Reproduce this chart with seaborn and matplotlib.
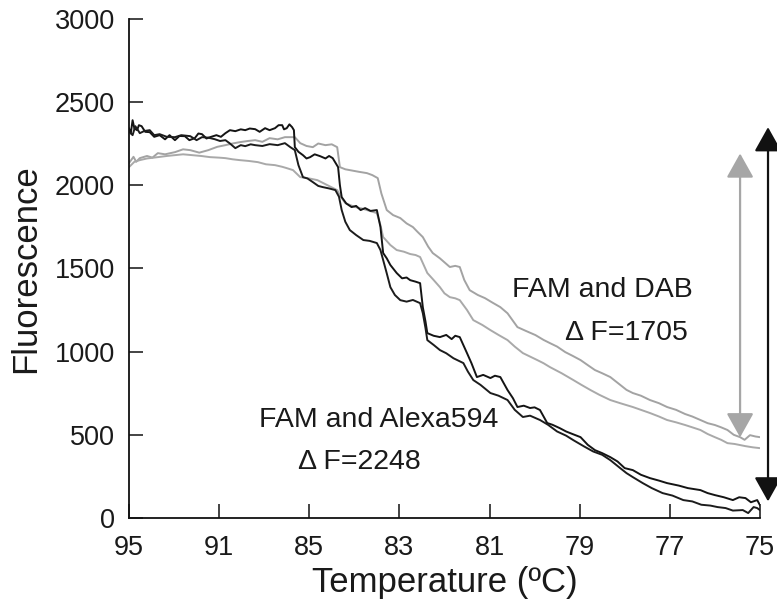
import numpy as np
import pandas as pd
import matplotlib
matplotlib.use("Agg")
import matplotlib.pyplot as plt
import seaborn as sns

# ---- data (x in tick-position units: 0 -> 95 C, 7 -> 75 C) ----
tick_labels = ["95", "91", "85", "83", "81", "79", "77", "75"]

alexa_a_x = [0, 0.02, 0.04, 0.06, 0.09, 0.11, 0.14, 0.18, 0.23, 0.28, 0.34, 0.40, 0.45, 0.51,
             0.56, 0.62, 0.67, 0.73, 0.77, 0.81, 0.86, 0.90, 0.97, 1.02, 1.07, 1.12, 1.18, 1.24,
             1.29, 1.34, 1.40, 1.45, 1.51, 1.56, 1.62, 1.66, 1.70, 1.72, 1.75, 1.78, 1.81, 1.83,
             1.84, 1.88, 1.93, 1.97, 2.01, 2.06, 2.12, 2.18, 2.22, 2.26, 2.32, 2.34, 2.36, 2.41,
             2.47, 2.52, 2.57, 2.62, 2.68, 2.75, 2.77, 2.79, 2.82, 2.86, 2.90, 2.97, 3.03, 3.08,
             3.12, 3.18, 3.23, 3.26, 3.29, 3.31, 3.38, 3.45, 3.52, 3.58, 3.62, 3.67, 3.75, 3.80,
             3.86, 3.93, 4.01, 4.06, 4.12, 4.20, 4.26, 4.31, 4.38, 4.45, 4.50, 4.56, 4.64, 4.70,
             4.78, 4.85, 4.92, 5.01, 5.09, 5.17, 5.25, 5.34, 5.42, 5.50, 5.59, 5.68, 5.78, 5.88,
             5.97, 6.10, 6.20, 6.34, 6.42, 6.50, 6.60, 6.70, 6.77, 6.84, 6.90, 6.97, 7.00]
alexa_a_y = [2342, 2310, 2390, 2340, 2330, 2360, 2354, 2320, 2318, 2290, 2300, 2275, 2300, 2270,
             2295, 2294, 2270, 2282, 2310, 2306, 2280, 2288, 2300, 2290, 2312, 2330, 2324, 2335,
             2330, 2340, 2336, 2320, 2342, 2330, 2342, 2360, 2360, 2335, 2342, 2365, 2348, 2330,
             2228, 2200, 2180, 2160, 2168, 2185, 2174, 2160, 2175, 2162, 2108, 2000, 1928, 1890,
             1868, 1875, 1850, 1862, 1845, 1850, 1800, 1748, 1592, 1560, 1520, 1472, 1440, 1445,
             1429, 1420, 1411, 1267, 1180, 1111, 1095, 1087, 1100, 1075, 1095, 1087, 991, 930,
             847, 860, 841, 855, 847, 769, 720, 667, 675, 661, 665, 649, 571, 560,
             540, 520, 505, 486, 440, 408, 390, 366, 340, 300, 288, 260, 240, 225,
             210, 195, 180, 168, 150, 138, 125, 108, 125, 120, 95, 108, 78]

alexa_b_x = [0, 0.04, 0.07, 0.10, 0.12, 0.17, 0.23, 0.28, 0.34, 0.42, 0.51, 0.58, 0.68, 0.75,
             0.81, 0.88, 0.95, 1.01, 1.07, 1.12, 1.18, 1.24, 1.29, 1.35, 1.40, 1.48, 1.56, 1.65,
             1.73, 1.79, 1.84, 1.88, 1.93, 1.98, 2.04, 2.10, 2.15, 2.22, 2.29, 2.33, 2.36, 2.40,
             2.45, 2.52, 2.60, 2.67, 2.75, 2.79, 2.82, 2.86, 2.90, 2.95, 3.01, 3.08, 3.15, 3.23,
             3.26, 3.29, 3.31, 3.38, 3.45, 3.52, 3.60, 3.71, 3.76, 3.82, 3.90, 4.01, 4.10, 4.20,
             4.28, 4.37, 4.45, 4.56, 4.65, 4.75, 4.85, 4.93, 5.05, 5.15, 5.25, 5.34, 5.45, 5.52,
             5.59, 5.70, 5.80, 5.92, 6.03, 6.15, 6.25, 6.35, 6.45, 6.53, 6.62, 6.70, 6.81, 6.87,
             6.93, 6.97, 7.00]
alexa_b_y = [2324, 2300, 2354, 2330, 2312, 2325, 2330, 2300, 2306, 2290, 2288, 2300, 2294, 2270,
             2288, 2285, 2276, 2265, 2270, 2250, 2222, 2240, 2234, 2245, 2240, 2235, 2246, 2240,
             2252, 2228, 2210, 2120, 2048, 2040, 2018, 1995, 1988, 1980, 1970, 1930, 1850, 1780,
             1730, 1700, 1670, 1665, 1652, 1610, 1550, 1470, 1387, 1340, 1309, 1300, 1310, 1291,
             1231, 1140, 1069, 1040, 1009, 990, 960, 931, 880, 829, 800, 751, 735, 709,
             650, 607, 615, 589, 560, 520, 495, 468, 430, 400, 380, 348, 300, 270,
             246, 210, 180, 150, 135, 108, 100, 80, 75, 66, 60, 45, 48, 30,
             66, 60, 48]

dab_a_x = [0, 0.05, 0.08, 0.12, 0.20, 0.26, 0.32, 0.40, 0.51, 0.60, 0.68, 0.78, 0.88, 0.98,
           1.07, 1.15, 1.23, 1.32, 1.40, 1.48, 1.56, 1.65, 1.73, 1.84, 1.90, 1.97, 2.04, 2.10,
           2.18, 2.25, 2.31, 2.34, 2.40, 2.45, 2.55, 2.64, 2.70, 2.76, 2.80, 2.86, 2.93, 3.01,
           3.08, 3.15, 3.20, 3.26, 3.32, 3.37, 3.45, 3.56, 3.62, 3.67, 3.72, 3.78, 3.87, 3.95,
           4.03, 4.12, 4.20, 4.31, 4.40, 4.51, 4.60, 4.67, 4.75, 4.84, 4.92, 5.01, 5.10, 5.17,
           5.25, 5.34, 5.45, 5.52, 5.59, 5.68, 5.78, 5.88, 5.97, 6.07, 6.17, 6.25, 6.34, 6.42,
           6.50, 6.57, 6.64, 6.71, 6.78, 6.83, 6.89, 6.95, 7.00]
dab_a_y = [2132, 2170, 2140, 2162, 2175, 2165, 2192, 2185, 2198, 2215, 2210, 2195, 2210, 2230,
           2240, 2250, 2258, 2265, 2270, 2260, 2282, 2275, 2288, 2288, 2252, 2235, 2228, 2250,
           2240, 2245, 2228, 2108, 2095, 2090, 2080, 2072, 2060, 2042, 1950, 1850, 1820, 1802,
           1770, 1748, 1720, 1688, 1630, 1592, 1560, 1508, 1515, 1508, 1430, 1369, 1340, 1321,
           1295, 1267, 1230, 1147, 1125, 1099, 1070, 1051, 1030, 997, 975, 949, 915, 889,
           870, 847, 800, 770, 751, 735, 709, 690, 667, 650, 625, 610, 589, 570,
           559, 545, 529, 500, 486, 470, 498, 490, 486]

dab_b_x = [0, 0.06, 0.12, 0.20, 0.32, 0.42, 0.51, 0.60, 0.70, 0.80, 0.90, 1.00, 1.07, 1.15,
           1.23, 1.33, 1.43, 1.52, 1.62, 1.70, 1.75, 1.82, 1.90, 2.00, 2.09, 2.20, 2.31, 2.35,
           2.40, 2.51, 2.58, 2.64, 2.70, 2.75, 2.79, 2.82, 2.90, 2.97, 3.05, 3.12, 3.18, 3.23,
           3.27, 3.31, 3.38, 3.45, 3.50, 3.56, 3.62, 3.67, 3.75, 3.82, 3.92, 4.01, 4.10, 4.20,
           4.28, 4.37, 4.45, 4.53, 4.60, 4.67, 4.80, 4.93, 5.02, 5.12, 5.22, 5.34, 5.45, 5.59,
           5.68, 5.78, 5.88, 5.97, 6.07, 6.17, 6.25, 6.34, 6.42, 6.50, 6.57, 6.64, 6.72, 6.84,
           6.92, 7.00]
dab_b_y = [2108, 2140, 2150, 2160, 2168, 2175, 2180, 2185, 2180, 2175, 2168, 2165, 2162, 2155,
           2150, 2145, 2138, 2125, 2120, 2110, 2102, 2090, 2048, 2040, 2030, 2000, 1970, 1930,
           1892, 1868, 1860, 1850, 1840, 1832, 1760, 1688, 1640, 1610, 1600, 1586, 1580, 1568,
           1520, 1472, 1430, 1387, 1350, 1327, 1320, 1309, 1250, 1189, 1160, 1129, 1100, 1069,
           1030, 991, 970, 949, 930, 907, 870, 829, 800, 769, 740, 709, 690, 667,
           650, 631, 610, 589, 575, 559, 545, 529, 505, 486, 470, 450, 445, 432,
           425, 420]

series_names = ["Alexa594 a", "Alexa594 b", "DAB a", "DAB b"]
series_colors = ["#141414", "#1c1c1c", "#a3a3a3", "#a9a9a9"]

# delta-F arrows (x position, top value, bottom value)
dab_arrow = (6.78, 2190, 485)      # dF = 1705
alexa_arrow = (7.09, 2348, 100)    # dF = 2248

frames = []
for name, xs, ys in zip(series_names,
                        [alexa_a_x, alexa_b_x, dab_a_x, dab_b_x],
                        [alexa_a_y, alexa_b_y, dab_a_y, dab_b_y]):
    frames.append(pd.DataFrame({"pos": xs, "F": ys, "series": name}))
df = pd.concat(frames, ignore_index=True)

sns.set_style("ticks")
plt.rcParams["font.family"] = ["Liberation Sans", "DejaVu Sans"]
text_color = "#1a1a1a"

fig = plt.figure(figsize=(7.77, 6.01), dpi=100)
ax = fig.add_axes([0.166, 0.138, 0.812, 0.831])

order = ["DAB a", "DAB b", "Alexa594 a", "Alexa594 b"]
for name in order:
    sub = df[df["series"] == name]
    sns.lineplot(data=sub, x="pos", y="F", ax=ax, estimator=None, sort=False,
                 color=series_colors[series_names.index(name)], lw=1.4, legend=False)

ax.set_xlim(0, 7)
ax.set_ylim(0, 3000)
ax.set_xticks(range(len(tick_labels)))
ax.set_xticklabels(tick_labels)
ax.set_yticks(np.arange(0, 3001, 500))
ax.tick_params(direction="in", length=10, width=1.1, labelsize=19.5, colors="#111111",
               labelcolor=text_color)
ax.tick_params(axis="x", pad=12)
ax.tick_params(axis="y", pad=10)
for s in ["top", "right"]:
    ax.spines[s].set_visible(False)
for s in ["left", "bottom"]:
    ax.spines[s].set_color("#111111")
    ax.spines[s].set_linewidth(1.3)

ax.set_xlabel("Temperature (ºC)", fontsize=25, color=text_color, labelpad=4)
ax.set_ylabel("Fluorescence", fontsize=25, color=text_color, labelpad=9)

for (xa, top, bot), col in [(dab_arrow, "#a6a6a6"), (alexa_arrow, "#111111")]:
    ax.annotate("", xy=(xa, top), xytext=(xa, bot),
                arrowprops=dict(arrowstyle="<|-|>,head_length=0.5,head_width=0.28",
                                color=col, lw=1.6, mutation_scale=30,
                                shrinkA=0, shrinkB=0),
                annotation_clip=False)

ax.text(5.25, 1370, "FAM and DAB", fontsize=20.5, ha="center", va="center", color=text_color)
ax.text(5.52, 1111, "Δ F=1705", fontsize=20.5, ha="center", va="center", color=text_color)
ax.text(2.77, 589, "FAM and Alexa594", fontsize=20.5, ha="center", va="center", color=text_color)
ax.text(2.56, 336, "Δ F=2248", fontsize=20.5, ha="center", va="center", color=text_color)

fig.savefig("out.png", dpi=100)
